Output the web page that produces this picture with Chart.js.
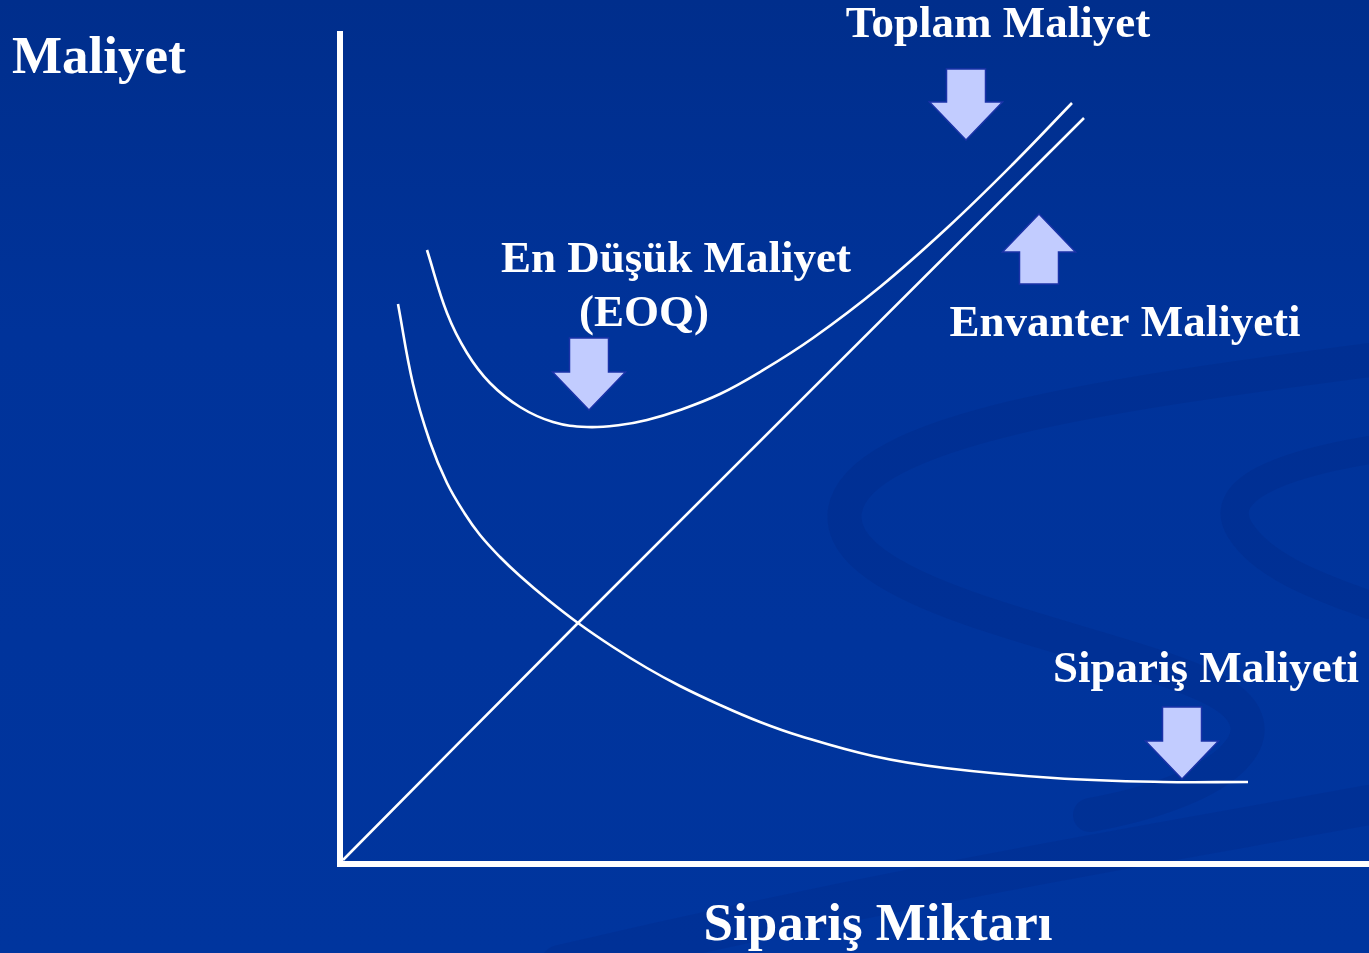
<!DOCTYPE html>
<html>
<head>
<meta charset="utf-8">
<title>EOQ</title>
<script src="https://cdn.jsdelivr.net/npm/chart.js@4/dist/chart.umd.min.js"></script>
<style>
  html, body { margin: 0; padding: 0; background: #00339a; overflow: hidden; }
  canvas { display: block; }
</style>
</head>
<body>
<canvas id="eoqChart" width="1369" height="953"></canvas>
<script>
// Data (x = order quantity, y = cost, arbitrary units)
const inventoryX = [0.3, 23.8, 74.4];
const inventoryY = [0.4, 24.1, 74.6];

const orderingX = [5.8, 7.3, 9.0, 10.7, 12.5, 14.0, 16.0, 18.0, 20.7, 23.8, 27.3, 30.7, 34.0, 38.0, 42.0, 46.0, 53.3, 60.5, 71.4, 82.3, 90.8];
const orderingY = [56.0, 48.0, 42.2, 38.1, 35.0, 32.9, 30.7, 28.8, 26.5, 24.1, 21.7, 19.6, 17.8, 15.9, 14.2, 12.8, 10.8, 9.6, 8.6, 8.2, 8.2];

const totalX = [8.7, 10.7, 12.7, 15.0, 18.0, 21.3, 24.7, 28.0, 30.7, 34.0, 38.0, 42.0, 47.3, 54.0, 60.7, 67.3, 73.2];
const totalY = [61.4, 55.1, 51.1, 48.1, 45.7, 44.2, 43.7, 43.9, 44.4, 45.4, 47.0, 49.2, 52.6, 57.7, 63.6, 70.0, 76.1];

const axisTitles = ['Maliyet', 'Sipariş Miktarı'];
const seriesLabels = ['Envanter Maliyeti', 'Sipariş Maliyeti', 'Toplam Maliyet'];

function zip(xs, ys) {
    return xs.map((x, i) => ({ x: x, y: ys[i] }));
}

const FONT = '"Liberation Serif", "Times New Roman", serif';

// annotation layout (pixels)
const labels = [
    { text: axisTitles[0], x: 12, y: 73, size: 53, align: 'left' },
    { text: axisTitles[1], x: 878, y: 940, size: 53, align: 'center' },
    { text: seriesLabels[2], x: 998, y: 37, size: 45, align: 'center' },
    { text: 'En Düşük Maliyet', x: 676, y: 272, size: 45, align: 'center' },
    { text: '(EOQ)', x: 644, y: 326, size: 45, align: 'center' },
    { text: seriesLabels[0], x: 1125, y: 336, size: 45, align: 'center' },
    { text: seriesLabels[1], x: 1206, y: 682, size: 45, align: 'center' }
];

// block arrows: centre x, shaft start y, tip y (down if tip > start)
const arrows = [
    { cx: 966, start: 69, tip: 140 },
    { cx: 589, start: 338, tip: 410 },
    { cx: 1039, start: 284, tip: 214 },
    { cx: 1182, start: 707, tip: 779 }
];

function drawArrow(c, a) {
    const dir = a.tip > a.start ? 1 : -1;
    const shaftHalf = 19.5, headHalf = 36.5, headLen = 38;
    const base = a.tip - dir * headLen;
    c.beginPath();
    c.moveTo(a.cx - shaftHalf, a.start);
    c.lineTo(a.cx + shaftHalf, a.start);
    c.lineTo(a.cx + shaftHalf, base);
    c.lineTo(a.cx + headHalf, base);
    c.lineTo(a.cx, a.tip);
    c.lineTo(a.cx - headHalf, base);
    c.lineTo(a.cx - shaftHalf, base);
    c.closePath();
    c.fillStyle = '#c2ccff';
    c.fill();
    c.lineWidth = 1.5;
    c.strokeStyle = '#1b33a8';
    c.stroke();
}

const backdrop = {
    id: 'backdrop',
    beforeDraw(chart) {
        const c = chart.ctx;
        const w = chart.width, h = chart.height;
        c.save();
        const g = c.createLinearGradient(0, 0, 0, h);
        g.addColorStop(0, '#002e8c');
        g.addColorStop(0.35, '#00339a');
        g.addColorStop(1, '#00359e');
        c.fillStyle = g;
        c.fillRect(0, 0, w, h);

        // faint swirl in the lower right
        c.lineCap = 'round';
        c.strokeStyle = 'rgba(0, 28, 105, 0.14)';
        c.lineWidth = 34;
        c.beginPath();
        c.moveTo(1369, 360);
        c.bezierCurveTo(1100, 395, 860, 430, 845, 510);
        c.bezierCurveTo(830, 600, 1120, 640, 1215, 690);
        c.bezierCurveTo(1290, 730, 1230, 790, 1090, 815);
        c.stroke();
        c.lineWidth = 28;
        c.beginPath();
        c.moveTo(1369, 450);
        c.bezierCurveTo(1280, 465, 1215, 490, 1240, 530);
        c.bezierCurveTo(1265, 570, 1330, 590, 1369, 605);
        c.stroke();
        c.lineWidth = 40;
        c.strokeStyle = 'rgba(0, 28, 105, 0.12)';
        c.beginPath();
        c.moveTo(560, 965);
        c.bezierCurveTo(900, 885, 1150, 845, 1369, 805);
        c.stroke();
        c.restore();
    },
    afterDatasetsDraw(chart) {
        const c = chart.ctx;
        const xs = chart.scales.x, ys = chart.scales.y;
        const x0 = xs.getPixelForValue(0), y0 = ys.getPixelForValue(0);
        c.save();
        c.strokeStyle = '#ffffff';
        c.lineWidth = 6;
        c.lineCap = 'butt';
        c.beginPath();
        c.moveTo(x0, 31);
        c.lineTo(x0, y0 + 3);
        c.moveTo(x0 - 3, y0);
        c.lineTo(chart.width, y0);
        c.stroke();

        arrows.forEach(a => drawArrow(c, a));

        c.fillStyle = '#ffffff';
        c.textBaseline = 'alphabetic';
        labels.forEach(l => {
            c.font = 'bold ' + l.size + 'px ' + FONT;
            c.textAlign = l.align;
            c.fillText(l.text, l.x, l.y);
        });
        c.restore();
    }
};

function lineSet(label, xs, ys) {
    return {
        label: label,
        data: zip(xs, ys),
        showLine: true,
        borderColor: '#ffffff',
        borderWidth: 2.6,
        pointRadius: 0,
        fill: false,
        tension: 0.4
    };
}

const ctx = document.getElementById('eoqChart').getContext('2d');
const eoqChart = new Chart(ctx, {
    type: 'scatter',
    data: {
        datasets: [
            lineSet(seriesLabels[0], inventoryX, inventoryY),
            lineSet(seriesLabels[1], orderingX, orderingY),
            lineSet(seriesLabels[2], totalX, totalY)
        ]
    },
    options: {
        responsive: false,
        animation: false,
        layout: { padding: { left: 340, top: 32, right: 0, bottom: 89 } },
        plugins: {
            legend: { display: false },
            tooltip: { enabled: false }
        },
        scales: {
            x: { type: 'linear', min: 0, max: 102.9, display: false },
            y: { type: 'linear', min: 0, max: 83.2, display: false }
        }
    },
    plugins: [backdrop]
});
</script>
</body>
</html>
